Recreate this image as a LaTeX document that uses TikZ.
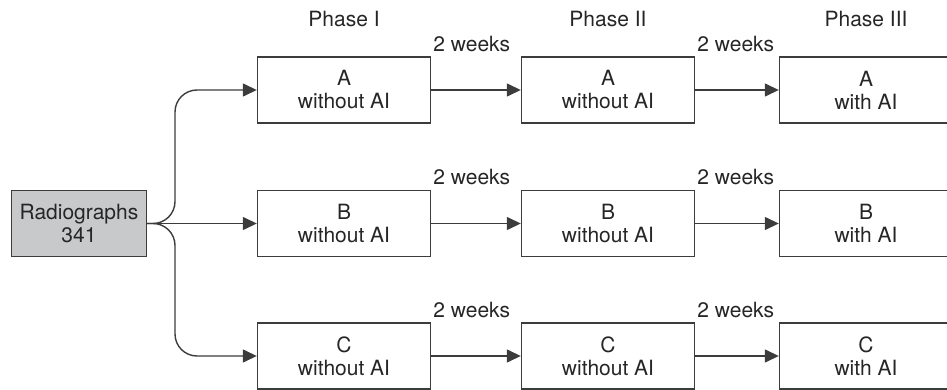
\documentclass[tikz,border=0pt]{standalone}
\usepackage{fontspec}
\setmainfont{TeX Gyre Heros}
\usetikzlibrary{arrows.meta}
\definecolor{linegray}{HTML}{3C3C3C}
\definecolor{boxgray}{HTML}{C8C9CB}

\begin{document}
\begin{tikzpicture}[
    x=1pt,
    y=-1pt,
    every node/.style={font=\fontsize{21}{23}\selectfont, text=black!85},
    box/.style={
        rectangle,
        draw=linegray,
        line width=1.4pt,
        minimum width=173pt,
        minimum height=66pt,
        inner sep=0pt,
        align=center
    },
    arrow/.style={
        -{Triangle[length=14pt,width=13pt]},
        draw=linegray,
        line width=1.4pt
    },
    delay/.style={
        anchor=base west,
        inner sep=0pt
    },
    phase/.style={
        anchor=base,
        inner sep=0pt
    }
]
\useasboundingbox (0,0) rectangle (947,390);

% Start
\node[box, fill=boxgray, minimum width=135pt] (rad) at (79,223.5) {Radiographs\\341};
\coordinate (fork) at (175,223.5);

% Phases
\node[phase] (ph1) at (344,27) {Phase I};
\node[phase] (ph2) at (608,27) {Phase II};
\node[phase] (ph3) at (866,27) {Phase III};

% Row A
\node[box] (a1) at (344,90) {A\\without AI};
\node[box] (a2) at (608,90) {A\\without AI};
\node[box] (a3) at (866,90) {A\\with AI};

% Row B
\node[box] (b1) at (344,223.5) {B\\without AI};
\node[box] (b2) at (608,223.5) {B\\without AI};
\node[box] (b3) at (866,223.5) {B\\with AI};

% Row C
\node[box] (c1) at (344,356) {C\\without AI};
\node[box] (c2) at (608,356) {C\\without AI};
\node[box] (c3) at (866,356) {C\\with AI};

% Branches
\draw[arrow, rounded corners=22pt] (rad.east) -- (fork) |- (a1.west);
\draw[arrow] (rad.east) -- (b1.west);
\draw[arrow, rounded corners=22pt] (rad.east) -- (fork) |- (c1.west);

% Follow-up
\draw[arrow] (a1) -- (a2);
\draw[arrow] (a2) -- (a3);
\draw[arrow] (b1) -- (b2);
\draw[arrow] (b2) -- (b3);
\draw[arrow] (c1) -- (c2);
\draw[arrow] (c2) -- (c3);

% Intervals
\node[delay] (wa1) at ([xshift=2pt, yshift=5pt]a1.north east) {2 weeks};
\node[delay] (wa2) at ([xshift=2pt, yshift=5pt]a2.north east) {2 weeks};
\node[delay] (wb1) at ([xshift=2pt, yshift=5pt]b1.north east) {2 weeks};
\node[delay] (wb2) at ([xshift=2pt, yshift=5pt]b2.north east) {2 weeks};
\node[delay] (wc1) at ([xshift=2pt, yshift=5pt]c1.north east) {2 weeks};
\node[delay] (wc2) at ([xshift=2pt, yshift=5pt]c2.north east) {2 weeks};

\end{tikzpicture}
\end{document}
